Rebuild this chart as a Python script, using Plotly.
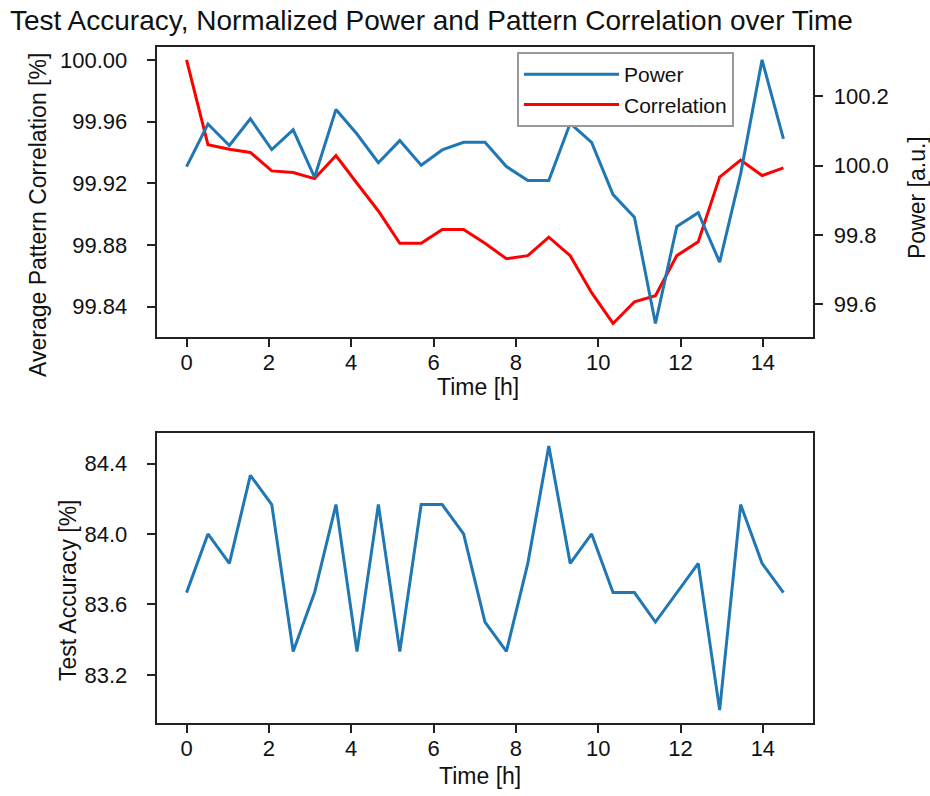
import plotly.graph_objects as go

# ---- data ----
time_h = [0.00, 0.52, 1.04, 1.55, 2.07, 2.59, 3.11, 3.63, 4.14, 4.66,
          5.18, 5.70, 6.21, 6.73, 7.25, 7.77, 8.29, 8.80, 9.32, 9.84,
          10.36, 10.88, 11.39, 11.91, 12.43, 12.95, 13.46, 13.98, 14.50]

power = [99.997, 100.120, 100.058, 100.135, 100.046, 100.103, 99.966, 100.162, 100.091, 100.008,
         100.072, 100.001, 100.045, 100.067, 100.067, 99.997, 99.957, 99.957, 100.122, 100.067,
         99.916, 99.851, 99.544, 99.824, 99.864, 99.721, 99.976, 100.305, 100.077]

correlation = [100.000, 99.945, 99.942, 99.940, 99.928, 99.927, 99.923, 99.938, 99.920, 99.902,
               99.881, 99.881, 99.890, 99.890, 99.881, 99.871, 99.873, 99.885, 99.873, 99.849,
               99.829, 99.843, 99.847, 99.873, 99.882, 99.924, 99.935, 99.925, 99.930]

accuracy = [83.667, 84.000, 83.833, 84.333, 84.167, 83.333, 83.667, 84.167, 83.333, 84.167,
            83.333, 84.167, 84.167, 84.000, 83.500, 83.333, 83.833, 84.500, 83.833, 84.000,
            83.667, 83.667, 83.500, 83.667, 83.833, 83.000, 84.167, 83.833, 83.667]

x_ticks = [0, 2, 4, 6, 8, 10, 12, 14]
corr_ticks = [99.84, 99.88, 99.92, 99.96, 100.00]
power_ticks = [99.6, 99.8, 100.0, 100.2]
acc_ticks = [83.2, 83.6, 84.0, 84.4]

W, H = 930, 796
FONT = "Liberation Sans, Arial, sans-serif"
BLUE = "#1f77b4"
RED = "#ff0000"

def px_x(p):
    return p / W

def px_y(p):
    return 1 - p / H

fig = go.Figure()

fig.add_trace(go.Scatter(x=time_h, y=power, name="Power", mode="lines",
                         line=dict(color=BLUE, width=3), xaxis="x", yaxis="y2"))
fig.add_trace(go.Scatter(x=time_h, y=correlation, name="Correlation", mode="lines",
                         line=dict(color=RED, width=3), xaxis="x", yaxis="y"))
fig.add_trace(go.Scatter(x=time_h, y=accuracy, name="Test Accuracy", mode="lines",
                         line=dict(color=BLUE, width=3), xaxis="x2", yaxis="y3",
                         showlegend=False))

xdom = [px_x(156.7), px_x(813.3)]
top_dom = [px_y(336.7), px_y(46.7)]
bot_dom = [px_y(723.3), px_y(432.7)]

axis_common = dict(showline=True, linecolor="#222", linewidth=2,
                   ticks="outside", ticklen=8, tickwidth=1.5, tickcolor="#222",
                   showgrid=False, zeroline=False,
                   tickfont=dict(family=FONT, size=22, color="#111"))

fig.update_layout(
    width=W, height=H,
    margin=dict(l=0, r=0, t=0, b=0),
    paper_bgcolor="white", plot_bgcolor="white",
    font=dict(family=FONT, color="#111"),
    showlegend=True,
    legend=dict(x=px_x(517), y=px_y(52), xanchor="left", yanchor="top",
                bordercolor="#999", borderwidth=2, bgcolor="white",
                font=dict(family=FONT, size=21, color="#111"),
                tracegroupgap=0, itemwidth=95),
    title=dict(text="Test Accuracy, Normalized Power and Pattern Correlation over Time",
               x=px_x(10), xanchor="left", y=px_y(20), yanchor="middle",
               font=dict(family=FONT, size=28, color="#111")),
    xaxis=dict(domain=xdom, anchor="y", range=[-0.725, 15.225],
               tickvals=x_ticks, ticklabelstandoff=-3, mirror=True, **axis_common),
    yaxis=dict(domain=top_dom, anchor="x", range=[99.8204, 100.0086],
               tickvals=corr_ticks, tickformat=".2f", ticklabelstandoff=15,
               mirror=True, **axis_common),
    yaxis2=dict(overlaying="y", side="right", anchor="x", range=[99.506, 100.343],
                tickvals=power_ticks, tickformat=".1f", ticklabelstandoff=6,
                **axis_common),
    xaxis2=dict(domain=xdom, anchor="y3", range=[-0.725, 15.225],
                tickvals=x_ticks, ticklabelstandoff=-4, mirror=True, **axis_common),
    yaxis3=dict(domain=bot_dom, anchor="x2", range=[82.925, 84.575],
                tickvals=acc_ticks, tickformat=".1f", ticklabelstandoff=15,
                mirror=True, **axis_common),
)

label_font = dict(family=FONT, size=23, color="#111")
fig.add_annotation(text="Average Pattern Correlation [%]", xref="paper", yref="paper",
                   x=px_x(38), y=px_y(215), textangle=-90, showarrow=False,
                   xanchor="center", yanchor="middle", font=label_font)
fig.add_annotation(text="Power [a.u.]", xref="paper", yref="paper",
                   x=px_x(917), y=px_y(198), textangle=-90, showarrow=False,
                   xanchor="center", yanchor="middle", font=label_font)
fig.add_annotation(text="Time [h]", xref="paper", yref="paper",
                   x=px_x(478), y=px_y(387), showarrow=False,
                   xanchor="center", yanchor="middle", font=label_font)
fig.add_annotation(text="Test Accuracy [%]", xref="paper", yref="paper",
                   x=px_x(68), y=px_y(590), textangle=-90, showarrow=False,
                   xanchor="center", yanchor="middle", font=label_font)
fig.add_annotation(text="Time [h]", xref="paper", yref="paper",
                   x=px_x(480), y=px_y(776), showarrow=False,
                   xanchor="center", yanchor="middle", font=label_font)

fig.write_html("out.html", config={"displayModeBar": False},
               post_script="document.body.style.margin='0';")
